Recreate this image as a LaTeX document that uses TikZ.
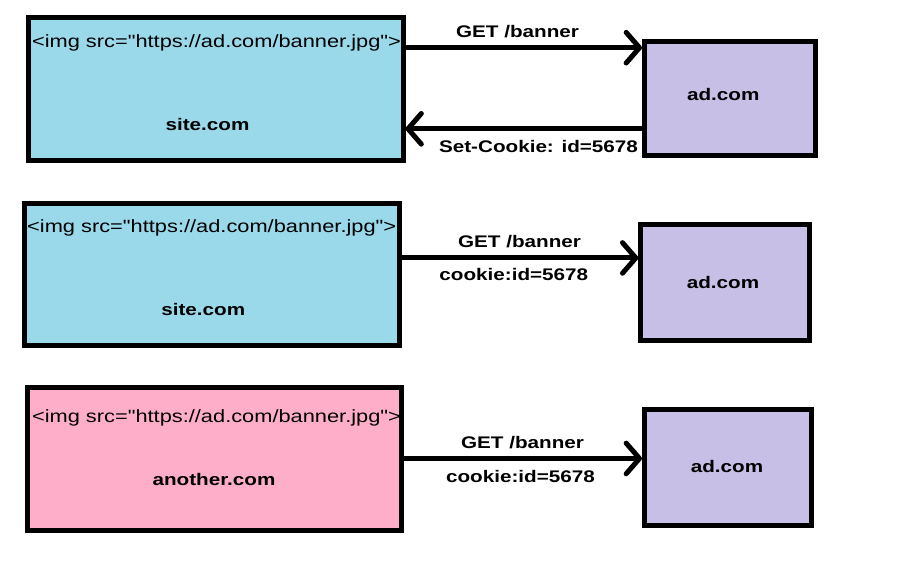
\documentclass[tikz,border=0pt]{standalone}
\usepackage{fontspec}
\newfontfamily\paintfont[FakeStretch=1.23]{Liberation Sans}
\usetikzlibrary{arrows.meta}
\definecolor{sitecol}{HTML}{99D9EA}
\definecolor{adcol}{HTML}{C8BFE7}
\definecolor{othercol}{HTML}{FFAEC9}

\begin{document}
\begin{tikzpicture}[x=0.75pt, y=-0.75pt,
  box/.style={draw, line width=3.75pt, inner sep=0pt},
  lbl/.style={font=\paintfont\bfseries\fontsize{12.6}{15}\selectfont, inner sep=0pt},
  tag/.style={font=\paintfont\fontsize{13.3}{15}\selectfont, inner sep=0pt},
  req/.style={line width=3.75pt, -{Straight Barb[length=10pt, width=23pt, round]}}]
\def\px{0.75pt}
\useasboundingbox (0,0) rectangle (907,569);

% first visit: ad.com sets the cookie
\node[box, fill=sitecol, minimum width=374.5*\px, minimum height=143*\px] (site1) at (215.75,89) {};
\node[tag] (img1) at (216.5,42.5) {<img src="https://ad.com/banner.jpg">};
\node[lbl] (name1) at (207.5,124) {site.com};
\node[box, fill=adcol, minimum width=171*\px, minimum height=114*\px] (ad1) at (730,98.5) {};
\node[lbl] (adname1) at (723.3,94) {ad.com};
\draw[req] (site1.east |- ad1.150) -- (ad1.150);
\draw[req] (ad1.199) -- (site1.east |- ad1.199);
\node[lbl] (get1) at (517.5,31.5) {GET /banner};
\node[lbl] (set1) at (538.5,146.5) {Set-Cookie: id=5678};

% same site again: cookie is sent back
\node[box, fill=sitecol, minimum width=374.2*\px, minimum height=142.5*\px] (site2) at (211.9,274.25) {};
\node[tag] (img2) at (211.7,228) {<img src="https://ad.com/banner.jpg">};
\node[lbl] (name2) at (203.3,309) {site.com};
\node[box, fill=adcol, minimum width=168.4*\px, minimum height=116*\px] (ad2) at (725,282.8) {};
\node[lbl] (adname2) at (723,282) {ad.com};
\draw[req] (site2.east |- ad2.164) -- (ad2.164);
\node[lbl] (get2) at (519.5,241.7) {GET /banner};
\node[lbl] (cookie2) at (513.8,274.7) {cookie:id=5678};

% other site: same cookie goes to ad.com
\node[box, fill=othercol, minimum width=374*\px, minimum height=143*\px] (site3) at (214.5,459) {};
\node[tag] (img3) at (216.5,418) {<img src="https://ad.com/banner.jpg">};
\node[lbl] (name3) at (214,479.5) {another.com};
\node[box, fill=adcol, minimum width=167*\px, minimum height=116*\px] (ad3) at (728,467.5) {};
\node[lbl] (adname3) at (727,466.5) {ad.com};
\draw[req] (site3.east |- ad3.174) -- (ad3.174);
\node[lbl] (get3) at (522.5,443) {GET /banner};
\node[lbl] (cookie3) at (520.5,476.5) {cookie:id=5678};

\end{tikzpicture}
\end{document}
